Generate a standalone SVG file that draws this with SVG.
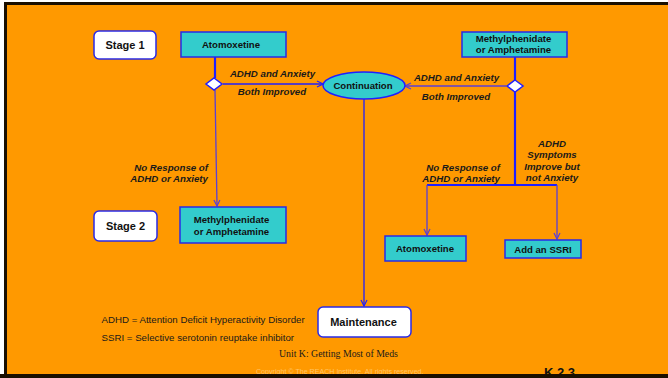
<svg xmlns="http://www.w3.org/2000/svg" width="668" height="378" viewBox="0 0 668 378">
  <defs>
    <style>
      .box { fill: #33CCCC; stroke: #2a2ae6; stroke-width: 1.5; }
      .stage { fill: #ffffff; stroke: #2a2ae6; stroke-width: 1.5; }
      .dia { fill: #ffffff; stroke: #1f1fff; stroke-width: 1.5; }
      .bt { font-family: "Liberation Sans", Arial, sans-serif; font-weight: bold; font-size: 9.6px; fill: #111; text-anchor: middle; }
      .st { font-family: "Liberation Sans", Arial, sans-serif; font-weight: bold; font-size: 11px; fill: #111; text-anchor: middle; }
      .lbl { font-family: "Liberation Sans", Arial, sans-serif; font-weight: bold; font-style: italic; font-size: 9.7px; fill: #1a1a1a; }
      .leg { font-family: "Liberation Sans", Arial, sans-serif; font-size: 9.7px; fill: #1a1a1a; }
      .main { stroke: #1f1fff; stroke-width: 2.2; fill: none; }
      .thin { stroke: #1f1fff; stroke-width: 1.3; fill: none; }
      .purp { stroke: #5a3fd6; stroke-width: 1.3; fill: none; }
    </style>
    <marker id="arrB" markerWidth="8" markerHeight="8" refX="7" refY="4" orient="auto" markerUnits="userSpaceOnUse">
      <path d="M1,1 L7,4 L1,7" fill="none" stroke="#1f1fff" stroke-width="1.2"/>
    </marker>
    <marker id="arrP" markerWidth="8" markerHeight="8" refX="7" refY="4" orient="auto" markerUnits="userSpaceOnUse">
      <path d="M1,1 L7,4 L1,7" fill="none" stroke="#5a3fd6" stroke-width="1.2"/>
    </marker>
  </defs>

  <!-- page background and frame -->
  <rect x="0" y="0" width="668" height="378" fill="#ffffff"/>
  <rect x="5.5" y="3.5" width="670" height="372" fill="#FF9900" stroke="#1a0f00" stroke-width="3"/>

  <!-- connectors -->
  <g id="connectors">
    <!-- left column -->
    <line class="main" x1="215" y1="57" x2="215" y2="78"/>
    <line class="thin" x1="223" y1="84" x2="323" y2="84" marker-end="url(#arrB)"/>
    <line class="purp" x1="215" y1="90" x2="217" y2="206" marker-end="url(#arrP)"/>
    <!-- right column -->
    <line class="main" x1="515" y1="57" x2="515" y2="80"/>
    <line class="purp" x1="506" y1="86" x2="405" y2="86" marker-end="url(#arrP)"/>
    <polyline class="main" points="515,92 515,185"/>
    <polyline class="main" points="427,185 557,185"/>
    <line class="purp" x1="427" y1="185" x2="427" y2="235" marker-end="url(#arrP)"/>
    <line class="purp" x1="557" y1="185" x2="557" y2="239" marker-end="url(#arrP)"/>
    <!-- continuation to maintenance -->
    <line class="thin" x1="364" y1="99" x2="364" y2="306" marker-end="url(#arrB)"/>
  </g>

  <!-- nodes -->
  <g id="stage1">
    <rect class="stage" x="94" y="31" width="62" height="28" rx="5"/>
    <text class="st" x="125" y="48.5">Stage 1</text>
  </g>
  <g id="atomoxetine-1">
    <rect class="box" x="181" y="32" width="105" height="25"/>
    <text class="bt" x="231" y="48">Atomoxetine</text>
  </g>
  <g id="diamond-1">
    <polygon class="dia" points="214,78 222,84 214,90 206,84"/>
  </g>
  <g id="continuation">
    <ellipse cx="364" cy="85.5" rx="41" ry="13.5" fill="#33CCCC" stroke="#1f1fff" stroke-width="1.5"/>
    <text class="bt" x="363" y="89">Continuation</text>
  </g>
  <g id="methylphenidate-1">
    <rect class="box" x="462" y="32" width="105" height="25"/>
    <text class="bt" x="513.5" y="42">Methylphenidate</text>
    <text class="bt" x="513.5" y="53">or Amphetamine</text>
  </g>
  <g id="diamond-2">
    <polygon class="dia" points="515,80 523,86 515,92 507,86"/>
  </g>
  <g id="stage2">
    <rect class="stage" x="94" y="211" width="63" height="30" rx="5"/>
    <text class="st" x="125.5" y="229.5">Stage 2</text>
  </g>
  <g id="methylphenidate-2">
    <rect class="box" x="180" y="207" width="106" height="36"/>
    <text class="bt" x="231.5" y="222.5">Methylphenidate</text>
    <text class="bt" x="231.5" y="234.5">or Amphetamine</text>
  </g>
  <g id="atomoxetine-2">
    <rect class="box" x="385" y="236" width="81" height="25"/>
    <text class="bt" x="425" y="252">Atomoxetine</text>
  </g>
  <g id="add-ssri">
    <rect class="box" x="505" y="240" width="76" height="18"/>
    <text class="bt" x="543" y="252.5">Add an SSRI</text>
  </g>
  <g id="maintenance">
    <rect class="stage" x="318" y="307" width="93" height="30" rx="5"/>
    <text class="st" x="363.5" y="325.5">Maintenance</text>
  </g>

  <!-- branch labels -->
  <g id="labels">
    <text class="lbl" x="272.5" y="76.5" text-anchor="middle">ADHD and Anxiety</text>
    <text class="lbl" x="272" y="94.5" text-anchor="middle">Both Improved</text>
    <text class="lbl" x="456.5" y="80.5" text-anchor="middle">ADHD and Anxiety</text>
    <text class="lbl" x="456" y="99.5" text-anchor="middle">Both Improved</text>
    <text class="lbl" x="208" y="170.5" text-anchor="end">No Response of</text>
    <text class="lbl" x="208" y="181.5" text-anchor="end">ADHD or Anxiety</text>
    <text class="lbl" x="500" y="170.5" text-anchor="end">No Response of</text>
    <text class="lbl" x="500" y="181.5" text-anchor="end">ADHD or Anxiety</text>
    <text class="lbl" x="552" y="146.5" text-anchor="middle">ADHD</text>
    <text class="lbl" x="552" y="158" text-anchor="middle">Symptoms</text>
    <text class="lbl" x="552" y="169.5" text-anchor="middle">Improve but</text>
    <text class="lbl" x="552" y="181" text-anchor="middle">not Anxiety</text>
  </g>

  <!-- legend and footer -->
  <text class="leg" x="101.5" y="322.5">ADHD = Attention Deficit Hyperactivity Disorder</text>
  <text class="leg" x="101.5" y="340.5">SSRI = Selective serotonin reuptake inhibitor</text>
  <text x="279" y="357" font-family="'Liberation Serif', 'Times New Roman', serif" font-size="9.8" fill="#1a1a1a">Unit K: Getting Most of Meds</text>
  <text x="256" y="374" font-family="'Liberation Sans', Arial, sans-serif" font-size="7.1" fill="#ffc466">Copyright © The REACH Institute.  All rights reserved.</text>
  <text x="544" y="377" font-family="'Liberation Sans', Arial, sans-serif" font-weight="bold" font-size="13" fill="#111">K  2.3</text>
  <rect x="0" y="374" width="668" height="4" fill="#1a0f00"/>
</svg>
